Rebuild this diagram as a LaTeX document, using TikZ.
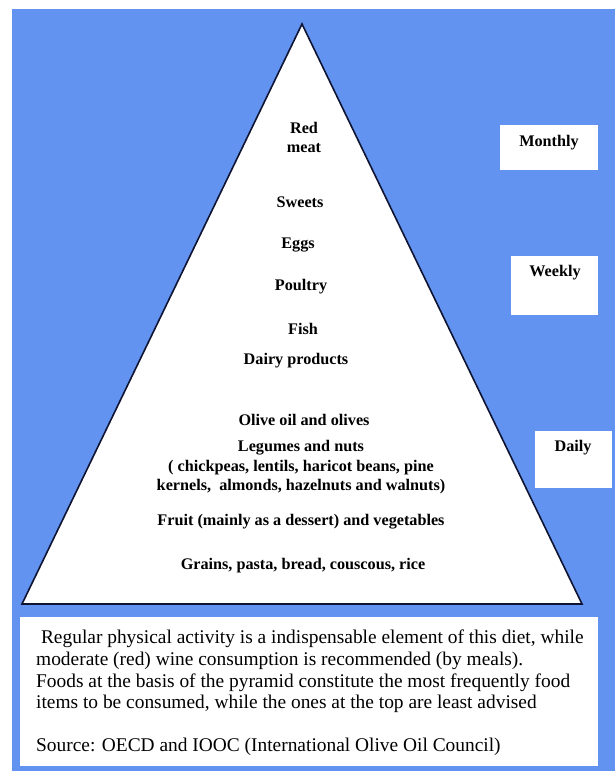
\documentclass[tikz,border=0pt]{standalone}
\usepackage{fontspec}
\setmainfont{Liberation Serif}
\usetikzlibrary{positioning}
\definecolor{bgblue}{RGB}{98,147,240}
\definecolor{edgenavy}{RGB}{15,20,50}

\begin{document}
\begin{tikzpicture}[x=1pt,y=-1pt,
  food/.style={font=\fontsize{16.2}{19.5}\selectfont\bfseries,align=center,inner sep=0pt},
  freqbox/.style={fill=white,inner sep=0pt,anchor=north west},
  note/.style={font=\fontsize{19.4}{21.6}\selectfont,align=left,inner sep=0pt,anchor=north west}]
\useasboundingbox (0,0) rectangle (615,771);
\fill[bgblue] (12,9) rectangle (615,771);
% pyramid
\coordinate (apex) at (302,24);
\coordinate (baseL) at (22,604);
\coordinate (baseR) at (582,604);
\draw[fill=white,draw=edgenavy,line width=1.6pt] (apex) -- (baseR) -- (baseL) -- cycle;
\foreach \n/\x/\y/\t in {redmeat/304/137.5/{Red\\meat},sweets/300/202/Sweets,eggs/298/245/Eggs,
    poultry/301/287/Poultry,fish/303/329/Fish,dairy/296/361/Dairy products,
    oliveoil/304/420/Olive oil and olives,
    legumes/301/467.5/{Legumes and nuts\\( chickpeas, lentils, haricot beans, pine\\kernels,\ \ almonds, hazelnuts and walnuts)},
    fruit/301/522/Fruit (mainly as a dessert) and vegetables,
    grains/303/566/{Grains, pasta, bread, couscous, rice}}
  \node[food] (\n) at (\x,\y) {\t};
% frequency boxes
\node[freqbox,minimum width=98,minimum height=45] (monthlybox) at (500,125) {};
\node[freqbox,minimum width=87,minimum height=59] (weeklybox) at (511,256) {};
\node[freqbox,minimum width=77,minimum height=57] (dailybox) at (535,431) {};
\node[food] (monthly) at (549,143) {Monthly};
\node[food] (weekly) at (555,273) {Weekly};
\node[food] (daily) at (573,448) {Daily};
% note below
\node[freqbox,minimum width=578,minimum height=149] (notebox) at (20,617) {};
\node[note] (notetext) at (36,630) {\ Regular physical activity is a indispensable element of this diet, while\\
moderate (red) wine consumption is recommended (by meals).\\
Foods at the basis of the pyramid constitute the most frequently food\\
items to be consumed, while the ones at the top are least advised\\[21.6pt]
Source: OECD and IOOC (International Olive Oil Council)};
\end{tikzpicture}
\end{document}
